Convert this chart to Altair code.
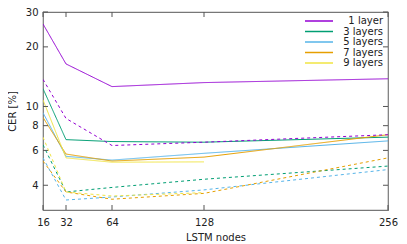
import altair as alt
import pandas as pd

nodes = [16, 32, 64, 128, 256]
series = ["1 layer", "3 layers", "5 layers", "7 layers", "9 layers"]
colors = ["#9400d3", "#009e73", "#56b4e9", "#e69f00", "#f0e442"]

solid = {
    "1 layer": [26.1, 16.4, 12.6, 13.2, 13.8],
    "3 layers": [12.3, 6.8, 6.65, 6.6, 7.0],
    "5 layers": [9.3, 5.6, 5.36, 5.8, 6.7],
    "7 layers": [8.8, 5.75, 5.3, 5.55, 7.2],
    "9 layers": [10.8, 5.5, 5.23, 5.25],
}
dashed = {
    "1 layer": [13.7, 8.7, 6.35, 6.6, 7.2],
    "3 layers": [6.4, 3.7, 3.9, 4.29, 5.0],
    "5 layers": [5.5, 3.37, 3.49, 3.79, 4.8],
    "7 layers": [5.3, 3.7, 3.4, 3.64, 5.5],
    "9 layers": [7.0, 3.7, 3.53, 3.67],
}

x_ticks = [16, 32, 64, 128, 256]
y_ticks = [4, 6, 8, 10, 20, 30]

rows = []
for kind, d in (("solid", solid), ("dashed", dashed)):
    for s in series:
        for n, v in zip(nodes, d[s]):
            rows.append({"nodes": n, "cer": v, "series": s, "kind": kind, "grp": s + kind})
df = pd.DataFrame(rows)
leg = pd.DataFrame({"series": series, "row": list(range(len(series)))})

W, H = 345, 198
font = "DejaVu Sans"

xscale = alt.Scale(domain=[16, 256], nice=False, zero=False)
yscale = alt.Scale(type="log", domain=[3, 30], nice=False)
cscale = alt.Scale(domain=series, range=colors)

lines = alt.Chart(df).mark_line(strokeWidth=1, clip=True).encode(
    x=alt.X("nodes:Q", scale=xscale,
            axis=alt.Axis(values=x_ticks, title="LSTM nodes", grid=False, domain=False,
                          ticks=False, labelPadding=7, titlePadding=5, labelFlush=False)),
    y=alt.Y("cer:Q", scale=yscale,
            axis=alt.Axis(values=y_ticks, title="CER [%]", grid=False, domain=False,
                          ticks=False, labelPadding=5, titlePadding=8, labelFlush=False)),
    color=alt.Color("series:N", scale=cscale, legend=None),
    strokeDash=alt.StrokeDash("kind:N", scale=alt.Scale(domain=["solid", "dashed"],
                                                         range=[[1, 0], [3, 3]]), legend=None),
    detail="grp:N",
)

xt = pd.DataFrame({"v": x_ticks})
yt = pd.DataFrame({"v": y_ticks})
tc = "#555555"
xb = alt.Chart(xt).mark_rule(color=tc).encode(x=alt.X("v:Q", scale=xscale), y=alt.value(H), y2=alt.value(H - 5))
xtop = alt.Chart(xt).mark_rule(color=tc).encode(x=alt.X("v:Q", scale=xscale), y=alt.value(0), y2=alt.value(5))
yl = alt.Chart(yt).mark_rule(color=tc).encode(y=alt.Y("v:Q", scale=yscale), x=alt.value(0), x2=alt.value(5))
yr = alt.Chart(yt).mark_rule(color=tc).encode(y=alt.Y("v:Q", scale=yscale), x=alt.value(W), x2=alt.value(W - 5))

main = alt.layer(lines, xb, xtop, yl, yr)

ly = alt.Y("row:Q", scale=alt.Scale(domain=[0, 4], range=[9, 51], nice=False, zero=False), axis=None)
leg_sym = alt.Chart(leg).mark_rule(strokeWidth=1.5).encode(
    x=alt.value(262), x2=alt.value(290), y=ly,
    color=alt.Color("series:N", scale=cscale, legend=None),
)
leg_txt = alt.Chart(leg).mark_text(align="right", baseline="middle", font=font,
                                   fontSize=10, color="#222222").encode(
    x=alt.value(340), y=ly, text="series:N",
)
legend = alt.layer(leg_sym, leg_txt)

chart = alt.layer(main, legend).resolve_scale(y="independent").properties(
    width=W, height=H,
    autosize=alt.AutoSizeParams(type="none"),
    padding={"left": 35, "top": 4, "right": 11, "bottom": 34},
).configure_view(stroke="#777777", strokeWidth=1.2).configure_axis(
    labelFont=font, titleFont=font, labelFontSize=10, titleFontSize=10,
    labelColor="#222222", titleColor="#222222", titleFontWeight="normal",
)

chart.save("out.html", embed_options={"renderer": "svg", "actions": False})
